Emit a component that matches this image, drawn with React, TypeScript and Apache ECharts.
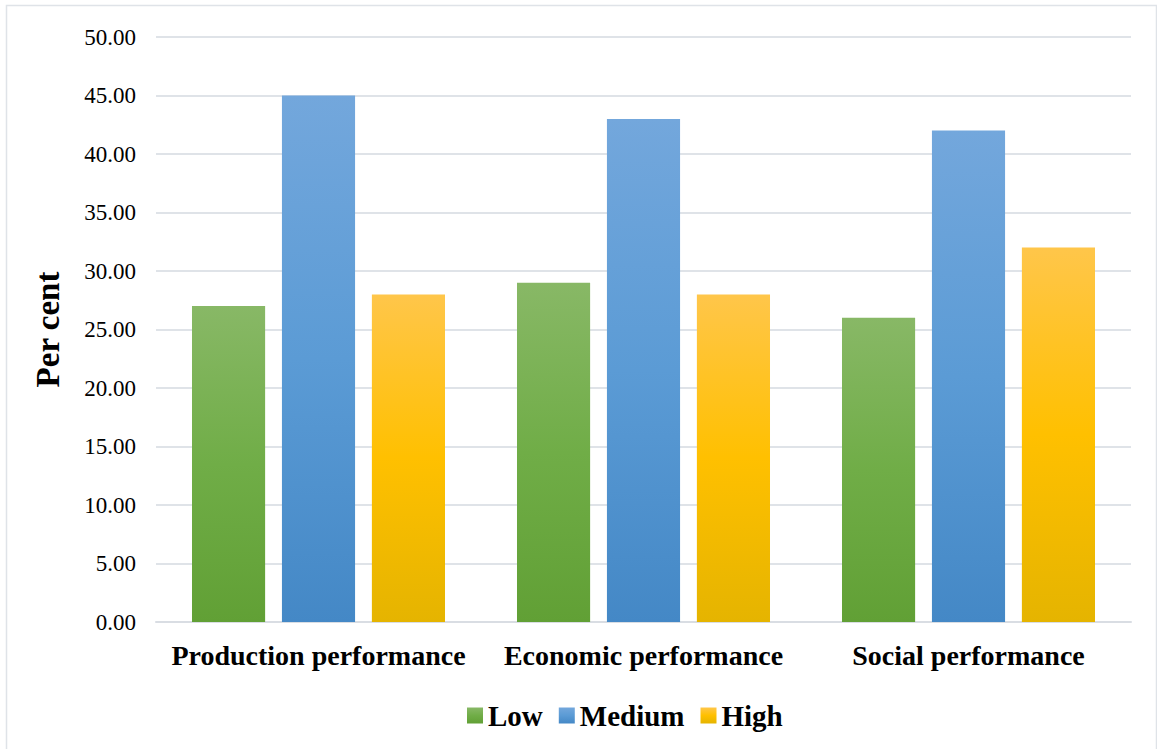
import React, { useEffect, useRef } from "react";
import * as echarts from "echarts";

const categories = ["Production performance", "Economic performance", "Social performance"];
const lowValues = [27, 29, 26];
const mediumValues = [45, 43, 42];
const highValues = [28, 28, 32];
const seriesNames = ["Low", "Medium", "High"];

const FONT = "'Liberation Serif', 'Times New Roman', serif";

function vGrad(top: string, mid: string, bottom: string) {
  return new echarts.graphic.LinearGradient(0, 0, 0, 1, [
    { offset: 0, color: top },
    { offset: 0.5, color: mid },
    { offset: 1, color: bottom },
  ]);
}

export default function App() {
  const ref = useRef<HTMLDivElement>(null);

  useEffect(() => {
    if (!ref.current) return;
    const chart = echarts.init(ref.current, undefined, { renderer: "svg" });

    const greenFill = vGrad("#88b866", "#70ad47", "#61a035");
    const blueFill = vGrad("#73a7dc", "#5b9bd5", "#4488c6");
    const yellowFill = vGrad("#ffc64a", "#ffc000", "#e5b400");

    const barCommon = {
      type: "bar" as const,
      barWidth: "22.5%",
      barGap: "23%",
    };

    chart.setOption({
      animation: false,
      backgroundColor: "#ffffff",
      graphic: [
        {
          type: "rect",
          shape: { x: 6.5, y: 5.5, width: 1150, height: 745 },
          style: { fill: "none", stroke: "#dfe3e8", lineWidth: 1.5 },
          silent: true,
        },
      ],
      grid: { left: 156, right: 26, top: 37, bottom: 127 },
      legend: {
        bottom: 14,
        left: 462,
        itemWidth: 16,
        itemHeight: 16,
        itemGap: 16,
        icon: "rect",
        textStyle: { fontFamily: FONT, fontSize: 29, fontWeight: "bold", color: "#000" },
        data: seriesNames,
      },
      xAxis: {
        type: "category",
        data: categories,
        axisLine: { show: true, lineStyle: { color: "#d9dde3", width: 2 } },
        axisTick: { show: false },
        axisLabel: {
          interval: 0,
          margin: 19,
          fontFamily: FONT,
          fontSize: 28,
          fontWeight: "bold",
          color: "#000",
        },
      },
      yAxis: {
        type: "value",
        min: 0,
        max: 50,
        interval: 5,
        name: "Per cent",
        nameLocation: "middle",
        nameGap: 92,
        nameTextStyle: { fontFamily: FONT, fontSize: 33, fontWeight: "bold", color: "#000" },
        axisLine: { show: false },
        axisTick: { show: false },
        splitLine: { lineStyle: { color: "#dfe3e8", width: 2 } },
        axisLabel: {
          margin: 20,
          fontFamily: FONT,
          fontSize: 23,
          color: "#000",
          formatter: (v: number) => v.toFixed(2),
        },
      },
      series: [
        { ...barCommon, name: seriesNames[0], data: lowValues, itemStyle: { color: greenFill } },
        { ...barCommon, name: seriesNames[1], data: mediumValues, itemStyle: { color: blueFill } },
        { ...barCommon, name: seriesNames[2], data: highValues, itemStyle: { color: yellowFill } },
      ],
    });

    return () => chart.dispose();
  }, []);

  return (
    <div
      ref={ref}
      style={{ position: "fixed", left: 0, top: 0, width: 1157, height: 749 }}
    />
  );
}
